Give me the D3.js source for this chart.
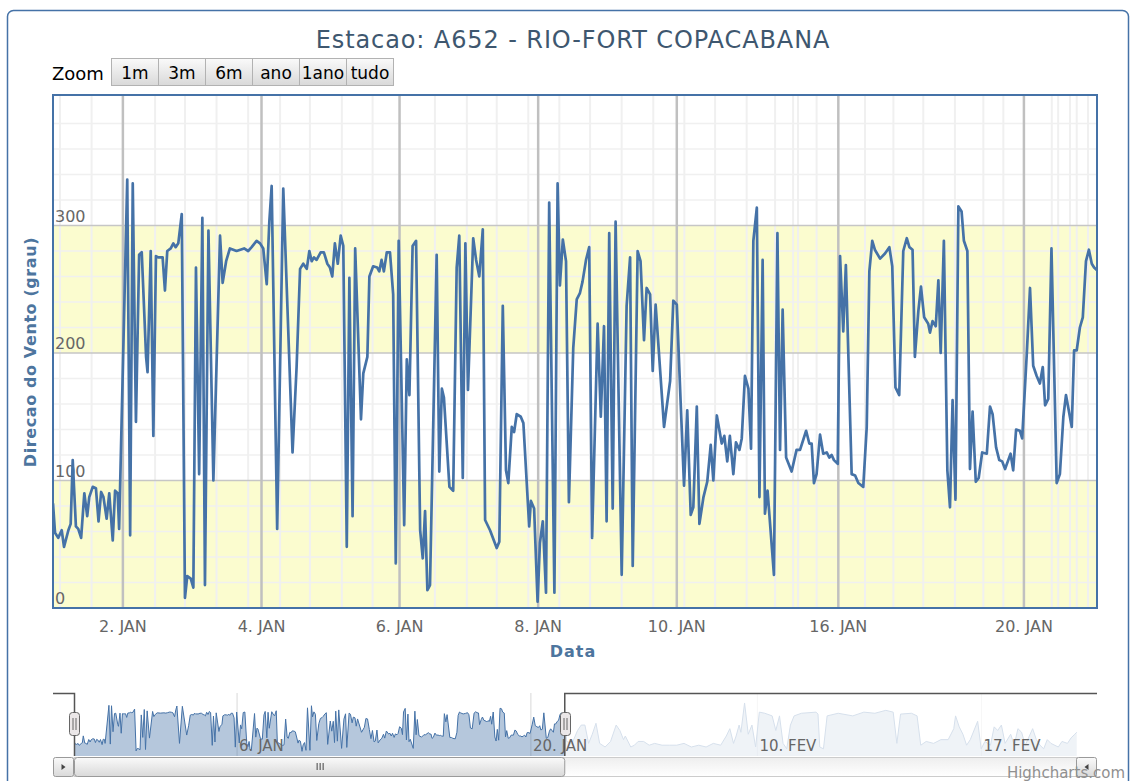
<!DOCTYPE html>
<html>
<head>
<meta charset="utf-8">
<script src="https://d3js.org/d3.v7.min.js"></script>
<style>
  body { margin: 0; background: #fff; }
  text { font-family: "DejaVu Sans", sans-serif; }
</style>
</head>
<body>
<div id="chart"></div>
<script>
// wind direction readings: [position on the ordinal time axis, degrees]
var readings = [
  [0,82],[0.7,59],[1.8,55],[3.0,61],[3.8,48],[5.3,61],[6.1,66],[6.8,116],[7.9,64],[8.7,62],[9.7,55],
  [10.8,90],[11.8,72],[12.5,87],[13.7,95],[14.8,94],[15.7,68],[16.6,91],[17.4,87],[18.5,70],[19.4,90],
  [20.6,53],[21.4,92],[22.3,90],[22.8,62],[25.6,336],[26.6,57],[27.5,333],[28.6,146],[29.7,277],[30.6,279],
  [32.1,197],[32.6,185],[33.7,280],[34.6,135],[35.5,276],[36.3,275],[37.1,275],[37.8,275],[38.6,249],[39.4,280],
  [40.6,282],[41.5,286],[42.3,283],[43.2,286],[44.4,309],[45.5,8],[46.3,25],[47.5,23],[48.4,16],[49.3,267],
  [50.4,105],[51.5,306],[52.4,18],[53.6,296],[55.3,100],[57.6,292],[58.5,255],[59.7,272],[61.0,282],[63.3,280],
  [65.9,282],[67.3,280],[68.5,283],[70.2,288],[71.4,286],[72.5,282],[73.7,254],[74.6,303],[75.4,331],[77.3,62],
  [79.4,329],[82.6,122],[84.0,189],[85.2,266],[86.3,270],[87.5,266],[88.4,280],[89.2,272],[90.0,275],[90.9,273],
  [92.3,279],[93.4,279],[94.6,270],[95.5,267],[96.3,260],[97.2,286],[98.2,270],[99.2,292],[100.1,284],[101.3,48],
  [102.2,259],[103.3,72],[104.2,282],[106.2,148],[107.0,184],[108.4,197],[109.1,260],[110.4,268],[111.8,267],
  [112.5,264],[113.3,273],[114.1,264],[115.1,279],[116.2,279],[117.3,246],[118.2,35],[119.2,288],[121.1,65],
  [122.0,195],[122.9,167],[124.0,284],[125.2,288],[126.6,61],[127.5,39],[128.3,76],[129.1,14],[130.0,18],
  [132.3,277],[133.2,107],[134.1,172],[134.8,165],[136.7,95],[138.0,92],[139.2,267],[140.1,292],[141.3,102],
  [142.2,286],[143.1,171],[144.9,290],[145.9,273],[147.0,260],[148.2,297],[149.0,69],[150.7,61],[153.0,47],
  [153.9,52],[155.1,237],[156.2,108],[157.0,98],[158.2,142],[159.0,138],[159.9,152],[161.3,150],[162.2,145],
  [164.2,64],[164.8,84],[165.9,78],[167.1,5],[167.9,51],[168.9,68],[170.0,12],[171.1,318],[172.9,12],[174.0,333],
  [174.8,253],[175.8,289],[176.9,272],[177.9,83],[179.4,204],[180.6,242],[181.7,247],[182.6,256],[183.8,273],
  [184.9,283],[185.9,55],[187.8,223],[188.9,150],[190.0,221],[190.9,68],[191.8,294],[193.0,78],[194.0,303],
  [196.1,26],[197.8,237],[199.0,275],[199.9,33],[201.6,280],[202.6,272],[203.8,210],[204.7,251],[205.9,246],
  [206.8,186],[207.8,238],[210.7,142],[212.8,178],[213.9,241],[215.1,238],[216.4,163],[217.6,96],[218.7,155],
  [219.9,73],[220.8,79],[222.0,158],[222.9,66],[224.3,87],[225.6,99],[226.8,128],[227.7,100],[228.9,151],
  [230.6,129],[231.5,135],[232.5,115],[233.4,135],[234.6,105],[235.5,130],[236.7,124],[237.5,133],[238.6,182],
  [239.8,172],[240.7,125],[241.5,288],[242.7,314],[243.6,87],[244.7,273],[245.5,74],[246.4,92],[248.6,26],
  [249.8,294],[250.7,124],[251.6,234],[252.8,118],[254.7,107],[256.4,124],[257.6,124],[259.7,139],[260.8,129],
  [261.6,129],[262.4,98],[263.3,105],[264.5,136],[265.6,121],[266.8,122],[267.7,118],[268.5,120],[269.3,116],
  [270.6,113],[271.4,276],[272.5,217],[273.4,269],[275.4,105],[276.6,104],[277.7,98],[279.4,95],[280.6,142],
  [281.5,264],[282.5,288],[283.4,281],[285.2,274],[286.9,278],[288.4,283],[289.4,268],[290.5,173],[291.8,167],
  [293.2,280],[294.4,290],[295.3,283],[296.4,281],[297.2,197],[298.4,233],[299.3,252],[300.4,228],[301.8,223],
  [302.4,216],[303.3,225],[304.4,221],[305.3,257],[306.1,200],[307.2,288],[308.4,108],[309.3,79],[310.2,163],
  [311.2,85],[312.2,315],[313.3,311],[314.1,288],[315.3,280],[316.2,109],[317.1,154],[318.2,99],[319.2,102],
  [320.4,122],[322.0,121],[323.1,158],[324.0,152],[325.2,126],[326.3,116],[327.3,115],[328.3,109],[329.4,116],
  [330.2,121],[331.1,108],[332.1,140],[333.4,139],[334.2,133],[335.8,200],[336.9,251],[338.0,190],[339.2,182],
  [340.3,176],[341.3,189],[342.1,159],[343.2,164],[344.3,282],[346.1,98],[347.2,105],[348.4,150],[349.3,167],
  [351.3,142],[352.1,202],[353.0,202],[354.1,220],[355.1,228],[356.2,272],[357.2,281],[358.2,270],[359.0,267],
  [360,265]
];

// rest of the series, only seen in the navigator (21 jan - 21 fev)
var laterReadings = [
  [361.0,76],[365.0,62],[369.0,155],[371.7,194],[374.4,194],[377.1,62],[379.8,128],[382.5,207],[385.2,62],
  [389.2,36],[393.2,76],[397.3,194],[400.0,155],[402.7,89],[404.0,115],[408.0,36],[410.7,49],[413.4,76],
  [417.4,76],[421.5,49],[425.5,62],[430.9,49],[436.3,49],[441.7,49],[447.0,62],[452.4,36],[457.8,49],
  [463.2,36],[468.5,62],[473.9,49],[478.0,115],[480.6,168],[483.3,62],[485.2,115],[487.4,194],[488.7,142],
  [491.4,353],[494.1,128],[496.8,194],[499.5,36],[502.2,287],[506.2,279],[511.6,260],[514.3,155],[517.0,260],
  [519.6,62],[522.3,23],[525.0,194],[527.7,260],[533.1,279],[543.8,287],[545.2,273],[546.5,36],[549.2,23],
  [551.9,260],[560.0,279],[570.7,260],[578.8,287],[586.9,279],[594.9,300],[600.3,287],[603.0,62],[605.7,273],
  [613.7,279],[617.8,260],[620.5,49],[624.5,76],[629.9,62],[635.3,89],[640.6,89],[644.7,168],[646.0,260],
  [648.7,181],[651.4,128],[654.1,49],[656.8,89],[662.2,221],[664.8,23],[667.5,76],[671.6,49],[674.3,181],
  [676.9,155],[679.6,194],[682.3,62],[686.4,128],[689.0,49],[691.7,168],[694.4,142],[697.1,49],[702.5,168],
  [705.2,89],[707.9,49],[710.6,23],[713.2,89],[715.9,62],[721.3,36],[724.0,76],[728.0,62],[730.7,102],
  [733.4,128],[734.8,142]
];

var dayLabels = ["2. JAN", "4. JAN", "6. JAN", "8. JAN", "10. JAN", "16. JAN", "20. JAN"];
var dayPos = [24.1, 71.9, 119.5, 167.3, 215.1, 270.8, 334.8];
var minorPos = [2.4, 13.3, 35.2, 45.5, 56.4, 67.3, 78.3, 88.6, 99.6, 110.2, 131.7, 142.7, 153.0, 163.9,
  174.6, 185.2, 196.1, 207.0, 217.7, 228.3, 239.2, 249.0, 255.2, 256.9, 263.3, 280.0, 289.8, 300.1,
  311.0, 320.8, 327.7, 344.4, 346.6, 350.7, 353.0, 356.9];
var navLabels = ["6. JAN", "20. JAN", "10. FEV", "17. FEV"];
var navPos = [119.5, 334.8, 500.8, 665];
var yTicks = [0, 100, 200, 300];
var bands = [[0, 100], [200, 300]];
var zoomButtons = ["1m", "3m", "6m", "ano", "1ano", "tudo"];

var W = 1132, H = 781;
var plot = {left: 53, right: 1097, top: 95, bottom: 608};
var nav = {left: 74, right: 1077, top: 693, bottom: 756};
var blue = "#4572A7";

var svg = d3.select("#chart").append("svg")
    .attr("width", W).attr("height", H);

var defs = svg.append("defs");
var g1 = defs.append("linearGradient").attr("id", "btn").attr("x1", 0).attr("y1", 0).attr("x2", 0).attr("y2", 1);
g1.append("stop").attr("offset", "0%").attr("stop-color", "#fafafa");
g1.append("stop").attr("offset", "100%").attr("stop-color", "#d9d9d9");
var g2 = defs.append("linearGradient").attr("id", "track").attr("x1", 0).attr("y1", 0).attr("x2", 0).attr("y2", 1);
g2.append("stop").attr("offset", "0%").attr("stop-color", "#eeeeee");
g2.append("stop").attr("offset", "100%").attr("stop-color", "#ffffff");
defs.append("clipPath").attr("id", "plotclip").append("rect")
    .attr("x", plot.left).attr("y", plot.top)
    .attr("width", plot.right - plot.left).attr("height", plot.bottom - plot.top);
defs.append("clipPath").attr("id", "navclip").append("rect")
    .attr("x", nav.left).attr("y", nav.top)
    .attr("width", nav.right - nav.left).attr("height", nav.bottom - nav.top);

// chart border
svg.append("rect")
    .attr("x", 7.5).attr("y", 10.5).attr("width", 1121).attr("height", 900)
    .attr("rx", 6).attr("fill", "none").attr("stroke", blue).attr("stroke-width", 1.5);

svg.append("text")
    .attr("x", 573).attr("y", 48)
    .attr("text-anchor", "middle")
    .style("font-size", "24px").style("letter-spacing", "0.9px")
    .attr("fill", "#3E576F")
    .text("Estacao: A652 - RIO-FORT COPACABANA");

// range selector
svg.append("text").attr("x", 52).attr("y", 80)
    .style("font-size", "18px").attr("fill", "#000").text("Zoom");
var btn = svg.selectAll(".btn").data(zoomButtons).enter().append("g")
    .attr("transform", function(d, i) { return "translate(" + (111.5 + i * 47) + ",58.5)"; });
btn.append("rect").attr("width", 47).attr("height", 27)
    .attr("fill", "url(#btn)").attr("stroke", "#b2b2b2");
btn.append("text").attr("x", 23.5).attr("y", 20).attr("text-anchor", "middle")
    .style("font-size", "17px").attr("fill", "#000")
    .text(function(d) { return d; });

var x = d3.scaleLinear().domain([0, 360]).range([plot.left, plot.right]);
var y = d3.scaleLinear().domain([0, 400]).range([plot.bottom, 98]);

svg.append("rect")
    .attr("x", plot.left).attr("y", plot.top)
    .attr("width", plot.right - plot.left).attr("height", plot.bottom - plot.top)
    .attr("fill", "#fff");

svg.selectAll(".band").data(bands).enter().append("rect")
    .attr("x", plot.left).attr("width", plot.right - plot.left)
    .attr("y", function(d) { return y(d[1]); })
    .attr("height", function(d) { return y(d[0]) - y(d[1]); })
    .attr("fill", "#fbfccf");

// grid
svg.selectAll(".hminor").data(d3.range(20, 400, 20).filter(function(v) { return v % 100; }))
    .enter().append("line")
    .attr("x1", plot.left).attr("x2", plot.right)
    .attr("y1", function(d) { return y(d); }).attr("y2", function(d) { return y(d); })
    .attr("stroke", "#f0f0f0").attr("stroke-width", 1.5);
svg.selectAll(".vminor").data(minorPos).enter().append("line")
    .attr("x1", function(d) { return x(d); }).attr("x2", function(d) { return x(d); })
    .attr("y1", plot.top).attr("y2", plot.bottom)
    .attr("stroke", "#f0f0f0").attr("stroke-width", 2);
svg.selectAll(".hmajor").data([100, 200, 300]).enter().append("line")
    .attr("x1", plot.left).attr("x2", plot.right)
    .attr("y1", function(d) { return y(d); }).attr("y2", function(d) { return y(d); })
    .attr("stroke", "#c6c6c6").attr("stroke-width", 1.5);
svg.selectAll(".vmajor").data(dayPos).enter().append("line")
    .attr("x1", function(d) { return x(d); }).attr("x2", function(d) { return x(d); })
    .attr("y1", plot.top).attr("y2", plot.bottom)
    .attr("stroke", "#c0c0c0").attr("stroke-width", 2.5);

svg.selectAll(".ylab").data(yTicks).enter().append("text")
    .attr("x", 55).attr("y", function(d) { return y(d) - 4; })
    .style("font-size", "16px").attr("fill", "#666")
    .text(function(d) { return d; });

var line = d3.line().x(function(d) { return x(d[0]); }).y(function(d) { return y(d[1]); });
svg.append("path").datum(readings)
    .attr("clip-path", "url(#plotclip)")
    .attr("d", line)
    .attr("fill", "none").attr("stroke", blue)
    .attr("stroke-width", 2.7).attr("stroke-linejoin", "round");

svg.append("rect")
    .attr("x", plot.left).attr("y", plot.top)
    .attr("width", plot.right - plot.left).attr("height", plot.bottom - plot.top)
    .attr("fill", "none").attr("stroke", blue).attr("stroke-width", 2);

svg.selectAll(".xlab").data(dayLabels).enter().append("text")
    .attr("x", function(d, i) { return x(dayPos[i]); }).attr("y", 632)
    .attr("text-anchor", "middle")
    .style("font-size", "16px").attr("fill", "#666")
    .text(function(d) { return d; });

svg.append("text").attr("x", 573).attr("y", 657).attr("text-anchor", "middle")
    .style("font-size", "16px").style("font-weight", "bold").style("letter-spacing", "1px")
    .attr("fill", "#4d759e").text("Data");
svg.append("text")
    .attr("transform", "translate(36,352) rotate(-90)")
    .attr("text-anchor", "middle")
    .style("font-size", "16px").style("font-weight", "bold").style("letter-spacing", "0.6px")
    .attr("fill", "#4d759e").text("Direcao do Vento (grau)");

// navigator
var nx = d3.scaleLinear().domain([0, 735]).range([nav.left, nav.right]);
var ny = d3.scaleLinear().domain([0, 360]).range([752, 702]);
var all = readings.concat(laterReadings);

svg.selectAll(".ngrid").data(navPos).enter().append("line")
    .attr("x1", function(d) { return nx(d); }).attr("x2", function(d) { return nx(d); })
    .attr("y1", nav.top).attr("y2", nav.bottom)
    .attr("stroke", "#d8d8d8");

var area = d3.area().x(function(d) { return nx(d[0]); })
    .y0(nav.bottom).y1(function(d) { return ny(d[1]); });
var navG = svg.append("g").attr("clip-path", "url(#navclip)");
navG.append("path").datum(all).attr("d", area)
    .attr("fill", blue).attr("fill-opacity", 0.4);
navG.append("path").datum(all)
    .attr("d", d3.line().x(function(d) { return nx(d[0]); }).y(function(d) { return ny(d[1]); }))
    .attr("fill", "none").attr("stroke", blue).attr("stroke-width", 1);

// mask over the part of the navigator outside the selection
var selMax = nx(d3.max(readings, function(d) { return d[0]; }));
svg.append("rect")
    .attr("x", selMax).attr("y", nav.top)
    .attr("width", nav.right - selMax).attr("height", nav.bottom - nav.top)
    .attr("fill", "#fff").attr("fill-opacity", 0.78);

svg.selectAll(".nlab").data(navLabels).enter().append("text")
    .attr("x", function(d, i) { return nx(navPos[i]) + 2; }).attr("y", 751)
    .style("font-size", "15px").attr("fill", "#666")
    .text(function(d) { return d; });

svg.append("path")
    .attr("d", "M" + plot.left + "," + (nav.top + 0.5) + "H" + (nav.left + 0.5) + "V" + nav.bottom +
        "M" + (selMax - 0.5) + "," + nav.bottom + "V" + (nav.top + 0.5) + "H" + plot.right)
    .attr("fill", "none").attr("stroke", "#555").attr("stroke-width", 1.5);

// scrollbar
var sy = 757, sh = 20;
svg.append("rect").attr("x", nav.left).attr("y", sy + 0.5)
    .attr("width", nav.right - nav.left).attr("height", sh - 1)
    .attr("fill", "url(#track)").attr("stroke", "#cccccc");
svg.append("rect").attr("x", nav.left + 0.5).attr("y", sy + 0.5)
    .attr("width", selMax - nav.left - 1).attr("height", sh - 1).attr("rx", 3)
    .attr("fill", "url(#btn)").attr("stroke", "#9a9a9a");
var gx = (nav.left + selMax) / 2;
[-3, 0, 3].forEach(function(o) {
    svg.append("line").attr("x1", gx + o + 0.5).attr("x2", gx + o + 0.5)
        .attr("y1", sy + 6).attr("y2", sy + 13).attr("stroke", "#444");
});
[[plot.left, -1], [nav.right - 1, 1]].forEach(function(b) {
    svg.append("rect").attr("x", b[0] + 0.5).attr("y", sy + 0.5)
        .attr("width", 20).attr("height", sh - 1).attr("rx", 2)
        .attr("fill", "url(#btn)").attr("stroke", "#9a9a9a");
    var cx = b[0] + 10.5, cy = sy + 10;
    svg.append("path")
        .attr("d", "M" + (cx - 2 * b[1]) + "," + cy + "L" + (cx + 2 * b[1]) + "," + (cy - 3) + "L" + (cx + 2 * b[1]) + "," + (cy + 3) + "Z")
        .attr("fill", "#444");
});

// handles
[nav.left, selMax].forEach(function(hx) {
    var h = svg.append("g").attr("transform", "translate(" + Math.round(hx) + ",712)");
    h.append("rect").attr("x", -4.5).attr("y", 0.5).attr("width", 10).attr("height", 23).attr("rx", 3)
        .attr("fill", "#ebe7e8").attr("stroke", "#666");
    [-1, 2].forEach(function(o) {
        h.append("line").attr("x1", o).attr("x2", o).attr("y1", 6).attr("y2", 18).attr("stroke", "#666");
    });
});

svg.append("text").attr("x", 1125).attr("y", 778).attr("text-anchor", "end")
    .style("font-size", "15px").attr("fill", "#909090").text("Highcharts.com");
</script>
</body>
</html>
